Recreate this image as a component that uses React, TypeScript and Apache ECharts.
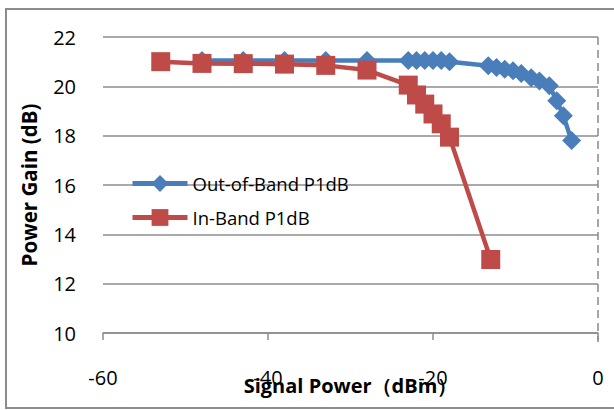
import React, { useEffect, useRef } from "react";
import * as echarts from "echarts";

const xTicks = [-60, -40, -20, 0];
const yTicks = [10, 12, 14, 16, 18, 20, 22];

const outBandX = [-48, -43, -38, -33, -28, -23, -22, -21, -20, -19, -18, -13.3, -12.3, -11.3, -10.3, -9.3, -8.1, -7.1, -5.9, -5.0, -4.2, -3.2];
const outBandY = [21.05, 21.05, 21.05, 21.05, 21.05, 21.05, 21.05, 21.05, 21.05, 21.05, 21.0, 20.83, 20.76, 20.69, 20.63, 20.52, 20.35, 20.22, 20.02, 19.42, 18.81, 17.8];

const inBandX = [-53, -48, -43, -38, -33, -28, -23, -22, -21, -20, -19, -18, -13];
const inBandY = [21.0, 20.93, 20.92, 20.9, 20.85, 20.66, 20.05, 19.65, 19.28, 18.88, 18.48, 17.94, 12.98];

const seriesNames = ["Out-of-Band P1dB", "In-Band P1dB"];
const xTitle = "Signal Power（dBm）";
const yTitle = "Power Gain (dB)";

const FONT = "'Open Sans', 'Noto Sans', sans-serif";

export default function App() {
  const ref = useRef<HTMLDivElement>(null);
  useEffect(() => {
    if (!ref.current) return;
    const chart = echarts.init(ref.current, undefined, { renderer: "svg" });
    const blue = "#4A7EBB";
    const red = "#BE4B48";
    const gray = "#8C8C8C";
    chart.setOption({
      animation: false,
      backgroundColor: "#ffffff",
      textStyle: { fontFamily: FONT },
      grid: { left: 103, right: 16, top: 37, bottom: 77, containLabel: false, outerBoundsMode: "none" },
      legend: {
        orient: "vertical",
        left: 130,
        top: 174,
        padding: 0,
        itemWidth: 55,
        itemHeight: 21,
        itemGap: 15,
        data: seriesNames,
        lineStyle: { width: 5 },
        textStyle: { fontSize: 18.5, color: "#000", fontFamily: FONT },
      },
      xAxis: {
        type: "value",
        min: xTicks[0],
        max: xTicks[xTicks.length - 1],
        interval: 20,
        name: xTitle,
        nameLocation: "middle",
        nameGap: 42,
        nameMoveOverlap: false,
        nameTextStyle: { fontSize: 20, fontWeight: "bold", color: "#000", fontFamily: FONT },
        axisLine: { show: true, lineStyle: { color: gray, width: 1.5 } },
        axisTick: { show: true, inside: false, length: 7, lineStyle: { color: gray, width: 1.5 } },
        axisLabel: { fontSize: 20, color: "#000", margin: 34, fontFamily: FONT },
        splitLine: { show: false },
      },
      yAxis: {
        type: "value",
        min: yTicks[0],
        max: yTicks[yTicks.length - 1],
        interval: 2,
        name: yTitle,
        nameLocation: "middle",
        nameGap: 64,
        nameMoveOverlap: false,
        nameTextStyle: { fontSize: 20.5, fontWeight: "bold", color: "#000", fontFamily: FONT },
        axisLine: { show: false },
        axisTick: { show: false },
        axisLabel: { fontSize: 20, color: "#000", margin: 27, fontFamily: FONT },
        splitLine: { show: true, lineStyle: { color: gray, width: 1.5 } },
      },
      graphic: [
        {
          type: "rect",
          shape: { x: 6, y: 9, width: 700, height: 399 },
          style: { fill: "none", stroke: gray, lineWidth: 2 },
          silent: true,
          z: 100,
        },
        {
          type: "line",
          shape: { x1: 598, y1: 37, x2: 598, y2: 342 },
          style: { stroke: "#A6A6A6", lineWidth: 2, lineDash: [8, 5] },
          silent: true,
        },
      ],
      series: [
        {
          name: seriesNames[0],
          type: "line",
          data: outBandX.map((x, i) => [x, outBandY[i]]),
          symbol: "diamond",
          symbolSize: 19,
          showAllSymbol: true,
          lineStyle: { color: blue, width: 4.5 },
          itemStyle: { color: blue },
          z: 2,
        },
        {
          name: seriesNames[1],
          type: "line",
          data: inBandX.map((x, i) => [x, inBandY[i]]),
          symbol: "rect",
          symbolSize: 19,
          showAllSymbol: true,
          lineStyle: { color: red, width: 4.5 },
          itemStyle: { color: red },
          z: 3,
        },
      ],
    });
    return () => chart.dispose();
  }, []);
  return (
    <div
      ref={ref}
      style={{ position: "fixed", left: 0, top: 0, width: 614, height: 410 }}
    />
  );
}
